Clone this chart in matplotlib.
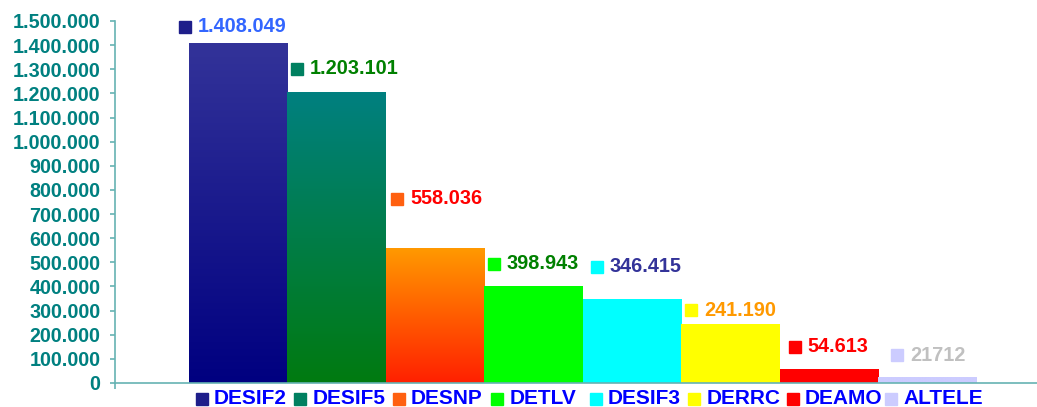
import numpy as np
import matplotlib
matplotlib.use("Agg")
import matplotlib.pyplot as plt
from matplotlib.colors import LinearSegmentedColormap
from matplotlib.patches import Rectangle
from matplotlib import transforms
from matplotlib.ticker import FuncFormatter, MultipleLocator

plt.rcParams['font.family'] = ['Liberation Sans', 'DejaVu Sans']

# data
categories = ['DESIF2', 'DESIF5', 'DESNP', 'DETLV', 'DESIF3', 'DERRC', 'DEAMO', 'ALTELE']
values = [1408049, 1203101, 558036, 398943, 346415, 241190, 54613, 21712]
value_labels = ['1.408.049', '1.203.101', '558.036', '398.943', '346.415', '241.190', '54.613', '21712']

# styles: (top colour, bottom colour) for each bar
bar_colors = [('#333399', '#000080'), ('#008080', '#007A10'), ('#FF9900', '#FF2000'),
              ('#00FF00', '#00FF00'), ('#00FFFF', '#00FFFF'), ('#FFFF00', '#FFFF00'),
              ('#FF0000', '#FF0000'), ('#CCCCFF', '#CCCCFF')]
key_colors = ['#1E1E8A', '#008060', '#FF6010', '#00FF00', '#00FFFF', '#FFFF00', '#FF0000', '#CCCCFF']
label_colors = ['#3366FF', '#008000', '#FF0000', '#008000', '#333399', '#FF9900', '#FF0000', '#C0C0C0']
# key-square centre offsets in pixels from the bar's top-left corner
label_dx = [-3.5, 9.5, 11.5, 10, 14, 10, 15, 19]
label_dy = [16.5, 24, 49.5, 23, 32.5, 14.5, 23, 22.5]

axis_col = '#66B3B3'
tick_col = '#008080'

fig = plt.figure(figsize=(10.37, 4.07), dpi=100)
ax = fig.add_axes([115 / 1037, 24 / 407, 922 / 1037, 362 / 407])

x = np.arange(len(categories))
bars = ax.bar(x, values, width=1.0, color='none', edgecolor='none', zorder=2)

# vertical gradients painted inside each bar
for b, (top, bot) in zip(bars, bar_colors):
    cmap = LinearSegmentedColormap.from_list('g', [bot, top])
    grad = np.linspace(0, 1, 256).reshape(-1, 1)
    x0, w, h = b.get_x(), b.get_width(), b.get_height()
    ax.imshow(grad, cmap=cmap, origin='lower', aspect='auto',
              extent=[x0, x0 + w, 0, h], zorder=2, interpolation='bilinear')

ax.set_xlim(-1.25, 8.11)
ax.set_ylim(0, 1500000)

# value labels with coloured key squares
for i, b in enumerate(bars):
    x0, h = b.get_x(), b.get_height()
    sq_tr = transforms.offset_copy(ax.transData, fig=fig, x=label_dx[i],
                                   y=label_dy[i], units='dots')
    ax.plot([x0], [h], marker='s', markersize=9.3, color=key_colors[i],
            transform=sq_tr, clip_on=False, zorder=4)
    ax.annotate(value_labels[i], xy=(x0, h), xytext=(label_dx[i] + 12.5, label_dy[i]),
                textcoords='offset pixels', color=label_colors[i], fontsize=14.3,
                fontweight='bold', va='center', ha='left', zorder=4)

# axes styling
for s in ['top', 'right']:
    ax.spines[s].set_visible(False)
ax.spines['left'].set_color(axis_col)
ax.spines['bottom'].set_color(axis_col)
ax.spines['left'].set_linewidth(1.2)
ax.spines['bottom'].set_linewidth(1.2)
ax.yaxis.set_major_locator(MultipleLocator(100000))
ax.yaxis.set_major_formatter(FuncFormatter(lambda v, p: f"{int(v):,}".replace(',', '.')))
ax.tick_params(axis='y', direction='out', length=3.6, width=1.2, color=axis_col,
               labelcolor=tick_col, labelsize=14.2, pad=7)
for t in ax.get_yticklabels():
    t.set_fontweight('bold')
ax.set_xticks([-1.25])
ax.set_xticklabels([''])
ax.tick_params(axis='x', direction='out', length=4, width=1.2, color=axis_col)

# legend row under the bars, aligned with each bar
blend = transforms.blended_transform_factory(ax.transData, ax.transAxes)
ax.add_patch(Rectangle((-0.53, -0.09), 8.23, 0.086, transform=blend, facecolor='white',
                       edgecolor='none', clip_on=False, zorder=3))
for i, b in enumerate(bars):
    x0 = b.get_x()
    ax.plot([x0 + 0.13], [-0.043], marker='s', markersize=9, color=key_colors[i],
            transform=blend, clip_on=False, zorder=4)
    ax.text(x0 + 0.255, -0.043, categories[i], transform=blend, color='#0000FF',
            fontsize=15, fontweight='bold', va='center', ha='left', zorder=4,
            clip_on=False)

fig.savefig('out.png', dpi=100)
